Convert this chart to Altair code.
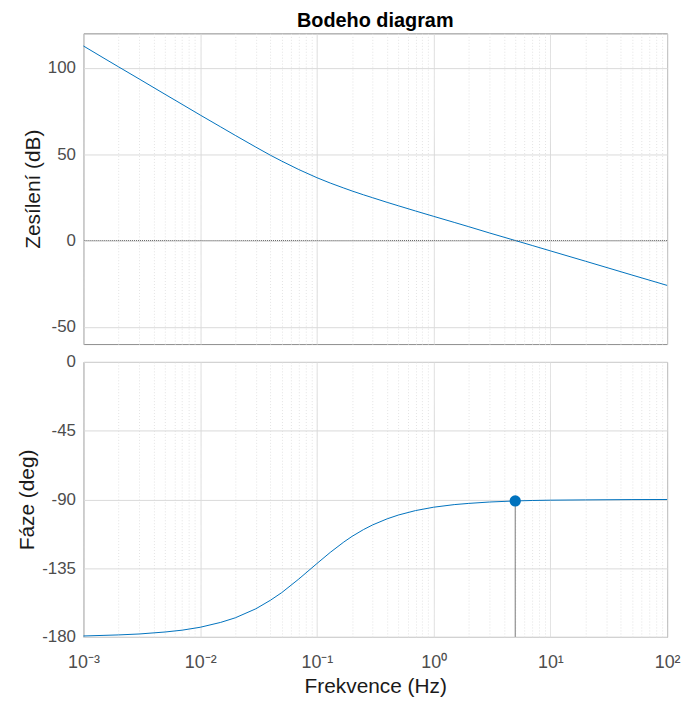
import altair as alt
import pandas as pd

# ---- data ----
freq = [0.001, 0.0015, 0.002, 0.003, 0.005, 0.007, 0.01, 0.015, 0.02, 0.03, 0.04,
        0.05, 0.07, 0.1, 0.13, 0.17, 0.2, 0.25, 0.3, 0.4, 0.5, 0.7, 1, 1.5, 2, 3,
        5, 7, 10, 20, 50, 100]
gain_db = [112.7, 105.6, 100.6, 93.6, 84.7, 78.9, 72.7, 65.8, 60.9, 54.1, 49.4,
           46.0, 41.1, 36.4, 33.3, 30.4, 28.7, 26.5, 24.8, 22.1, 20.1, 17.1, 14.0,
           10.5, 8.0, 4.4, 0.0, -2.9, -6.0, -12.0, -20.0, -26.0]
phase_deg = [-179.4, -179.0, -178.7, -178.1, -176.8, -175.6, -173.7, -170.5, -167.5,
             -161.6, -156.0, -151.0, -142.1, -132.0, -124.7, -117.9, -114.2, -109.8,
             -106.7, -102.7, -100.2, -97.3, -95.1, -93.4, -92.6, -91.7, -91.0, -90.7,
             -90.5, -90.3, -90.1, -90.05]
cross_freq = [5.0]
cross_phase = [-91.0]
phase_floor = [-180]

x_decades = [-3, -2, -1, 0, 1, 2]
x_mult = [1, 2, 3, 4, 5, 6, 7, 8, 9]
gain_ticks = [-50, 0, 50, 100]
phase_ticks = [0, -45, -90, -135, -180]
zero_line = [0]

df = pd.DataFrame({"f": freq, "gain": gain_db, "phase": phase_deg})
cross = pd.DataFrame({"f": cross_freq, "phase": cross_phase, "floor": phase_floor})
zero_df = pd.DataFrame({"y": zero_line})

x_ticks = [m * 10.0 ** e for e in x_decades[:-1] for m in x_mult] + [10.0 ** x_decades[-1]]

FONT = "Liberation Sans"
BLUE = "#0072BD"
major_test = "abs(log(datum.value)/LN10 - round(log(datum.value)/LN10)) < 0.001"
label_expr = (major_test + " ? '10' + ['⁻³','⁻²','⁻¹','⁰','¹','²'][round(log(datum.value)/LN10) + 3] : ''")
plain_num = "'' + datum.value"

x_scale = alt.Scale(type="log", domain=[0.001, 100], nice=False)


def x_axis(show):
    kw = dict(
        values=x_ticks,
        grid=True,
        gridColor={"condition": {"test": major_test, "value": "#dadada"}, "value": "#e3e3e3"},
        gridDash={"condition": {"test": major_test, "value": [1, 0]}, "value": [1, 2]},
        ticks=False,
        domain=False,
        labelFlush=False,
        labelOverlap=False,
    )
    if show:
        return alt.Axis(labels=True, labelExpr=label_expr, title="Frekvence  (Hz)",
                        labelFontSize=18, labelPadding=17, titlePadding=4, **kw)
    return alt.Axis(labels=False, title=None, labelPadding=0, **kw)


W = 588
line_top = alt.Chart(df).mark_line(color=BLUE, strokeWidth=1).encode(
    x=alt.X("f:Q", scale=x_scale, axis=x_axis(False)),
    y=alt.Y("gain:Q", scale=alt.Scale(domain=[-60, 120], nice=False),
            axis=alt.Axis(values=gain_ticks, title="Zesílení (dB)", gridColor="#dadada",
                          labelExpr=plain_num, ticks=False, domain=False, labelPadding=8)),
)
zero_rule = alt.Chart(zero_df).mark_rule(color="#666666", strokeWidth=1, strokeDash=[1, 1]).encode(
    y="y:Q"
)
top = alt.layer(line_top, zero_rule).properties(
    width=W, height=313,
    title=alt.TitleParams("Bodeho diagram", font=FONT, fontSize=20, fontWeight="bold",
                          anchor="middle", frame="group", color="#000000", offset=2),
)

y_phase = alt.Scale(domain=[-180, 0], nice=False)
line_bot = alt.Chart(df).mark_line(color=BLUE, strokeWidth=1).encode(
    x=alt.X("f:Q", scale=x_scale, axis=x_axis(True)),
    y=alt.Y("phase:Q", scale=y_phase,
            axis=alt.Axis(values=phase_ticks, title="Fáze (deg)", gridColor="#dadada",
                          labelExpr=plain_num, ticks=False, domain=False, labelPadding=8)),
)
stem = alt.Chart(cross).mark_rule(color="#7a7a7a", strokeWidth=1).encode(
    x="f:Q", y="floor:Q", y2="phase:Q"
)
dot = alt.Chart(cross).mark_point(filled=True, color=BLUE, size=130, opacity=1).encode(
    x="f:Q", y="phase:Q"
)
bottom = alt.layer(line_bot, stem, dot).properties(width=W, height=277)

chart = alt.vconcat(top, bottom, spacing=7).properties(
    padding={"left": 8, "top": 0, "right": 0, "bottom": 0}
).configure_axis(
    labelFont=FONT, titleFont=FONT, labelFontSize=17, titleFontSize=21,
    labelColor="#4d4d4d", titleColor="#1a1a1a", titleFontWeight="normal",
).configure_view(stroke="#8c8c8c", strokeWidth=1)

chart.save("out.html", embed_options={"renderer": "svg", "actions": False})
